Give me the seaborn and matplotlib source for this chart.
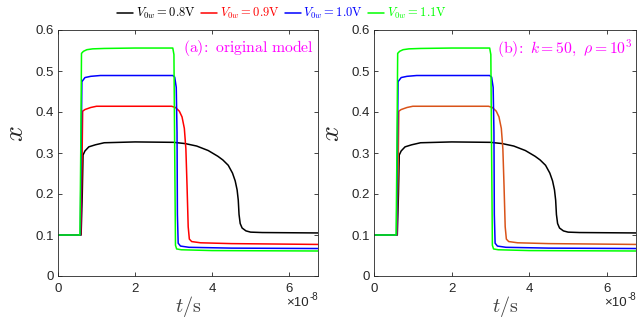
import numpy as np
import pandas as pd
import matplotlib
matplotlib.use("Agg")
import matplotlib.pyplot as plt
import seaborn as sns
from matplotlib.ticker import FormatStrFormatter

# time axis in units of 1e-8 s
t_green = [0, 0.57, 0.59, 0.61, 0.66, 0.75, 0.9, 1.2, 2.0, 2.98, 3.01, 3.03, 3.05, 3.08, 3.2, 4.0, 6.75]
x_green = [0.100, 0.100, 0.30, 0.543, 0.548, 0.552, 0.554, 0.555, 0.556, 0.556, 0.54, 0.30, 0.075, 0.066, 0.064, 0.062, 0.061]

t_blue = [0, 0.58, 0.60, 0.62, 0.70, 0.85, 1.1, 2.0, 2.98, 3.03, 3.07, 3.09, 3.10, 3.12, 3.18, 3.4, 4.5, 6.75]
x_blue = [0.100, 0.100, 0.30, 0.474, 0.484, 0.487, 0.489, 0.489, 0.489, 0.485, 0.46, 0.35, 0.15, 0.080, 0.073, 0.070, 0.068, 0.067]

t_red = [0, 0.59, 0.62, 0.64, 0.70, 0.85, 1.0, 2.0, 2.95, 3.05, 3.15, 3.22, 3.28, 3.32, 3.35, 3.38, 3.41, 3.47, 3.7, 4.5, 6.75]
x_red = [0.100, 0.100, 0.25, 0.402, 0.406, 0.411, 0.414, 0.414, 0.414, 0.411, 0.402, 0.388, 0.36, 0.31, 0.22, 0.12, 0.090, 0.084, 0.081, 0.079, 0.077]

t_black = [0, 0.60, 0.63, 0.65, 0.70, 0.80, 0.97, 1.2, 2.0, 3.0, 3.3, 3.6, 3.9, 4.15, 4.28, 4.42, 4.53, 4.60, 4.65, 4.68,
           4.70, 4.73, 4.78, 4.88, 5.0, 5.3, 6.75]
x_black = [0.100, 0.100, 0.20, 0.295, 0.305, 0.315, 0.320, 0.325, 0.327, 0.326, 0.323, 0.317, 0.306, 0.292, 0.283, 0.270,
           0.251, 0.232, 0.210, 0.185, 0.150, 0.128, 0.117, 0.110, 0.107, 0.106, 0.105]

voltages = ["0.8", "0.9", "1.0", "1.1"]
colors_a = ["#000000", "#FF0000", "#0000FF", "#00FF00"]
colors_b = ["#000000", "#D95319", "#0000FF", "#00FF00"]
curves = [(t_black, x_black), (t_red, x_red), (t_blue, x_blue), (t_green, x_green)]

sns.set_theme(style="ticks")
plt.rcParams["font.family"] = ["Liberation Sans", "DejaVu Sans"]
plt.rcParams["mathtext.fontset"] = "cm"

axcol = "#262626"
fig = plt.figure(figsize=(6.37, 3.2), dpi=100)
ax_a = fig.add_axes([58 / 637, 44 / 320, 260 / 637, 246 / 320])
ax_b = fig.add_axes([374 / 637, 44 / 320, 262 / 637, 246 / 320])

panels = [(ax_a, colors_a, r"$\mathrm{(a)\!:\ original\ model}$"),
          (ax_b, colors_b, r"$\mathrm{(b)\!:}\ k=50,\ \rho=10^3$")]

for ax, cols, note in panels:
    for (t, x), c, v in zip(curves, cols, voltages):
        df = pd.DataFrame({"t": t, "x": x})
        sns.lineplot(data=df, x="t", y="x", ax=ax, color=c, lw=1.1, sort=False,
                     estimator=None, label=r"$V_{0w}=" + v + r"\mathrm{V}$")
    ax.get_legend().remove()
    ax.set_xlim(0, 6.75)
    ax.set_ylim(0, 0.6)
    ax.set_xticks([0, 2, 4, 6])
    ax.set_yticks(np.arange(0, 0.61, 0.1))
    ax.yaxis.set_major_formatter(FormatStrFormatter("%g"))
    ax.tick_params(direction="in", length=3, width=0.6, top=True, right=True,
                   labelsize=9.5, colors=axcol)
    ax.tick_params(axis="x", pad=5)
    ax.tick_params(axis="y", pad=3)
    for s in ax.spines.values():
        s.set_color(axcol)
        s.set_linewidth(0.6)
    ax.set_xlabel(r"$t/\mathrm{s}$", fontsize=14.5, color="#404040")
    ax.set_ylabel(r"$x$", fontsize=20, color="#262626")
    ax.xaxis.set_label_coords(0.5, -0.072)
    ax.yaxis.set_label_coords(-0.11, 0.58)
    ax.text(0.985, 0.925, note, transform=ax.transAxes, ha="right", va="center",
            fontsize=11.3, color="#FF00FF")
    ax.text(0.966, -0.11, "\u00d710", transform=ax.transAxes, ha="right", va="center",
            fontsize=9.5, color=axcol)
    ax.text(0.966, -0.085, "-8", transform=ax.transAxes, ha="left", va="center",
            fontsize=7, color=axcol)

handles, labels = ax_a.get_legend_handles_labels()
leg = fig.legend(handles, labels, loc="upper center", bbox_to_anchor=(282 / 637, 1.0), ncol=4,
                 frameon=False, fontsize=9, handlelength=1.3, handletextpad=0.2,
                 columnspacing=0.4, borderaxespad=0.1)
for txt, c in zip(leg.get_texts(), colors_a):
    txt.set_color(c)

fig.savefig("out.png", dpi=100)
